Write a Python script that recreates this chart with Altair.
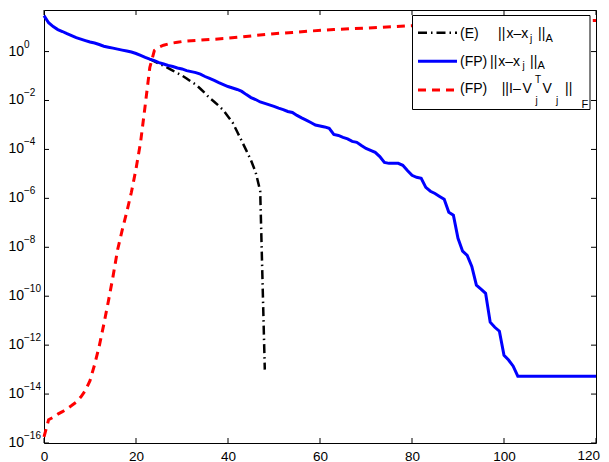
import altair as alt
import pandas as pd

FONT = "Liberation Sans"

# ---------------- data ----------------
# (FP) || x - x_j ||_A   (log10 of value), iterations 0..120
fp_iters = list(range(0, 121))
fp_err_log10 = [
    1.47, 1.18, 1.02, 0.90, 0.82, 0.73, 0.65, 0.57, 0.51, 0.45,
    0.39, 0.35, 0.29, 0.22, 0.18, 0.14, 0.10, 0.06, 0.02, -0.02,
    -0.08, -0.16, -0.24, -0.31, -0.37, -0.45, -0.51, -0.57, -0.61, -0.67,
    -0.71, -0.78, -0.82, -0.86, -0.92, -1.02, -1.10, -1.18, -1.27, -1.35,
    -1.43, -1.49, -1.55, -1.63, -1.76, -1.88, -1.96, -2.06, -2.12, -2.18,
    -2.24, -2.31, -2.37, -2.45, -2.49, -2.61, -2.71, -2.80, -2.90, -3.00,
    -3.04, -3.08, -3.14, -3.39, -3.43, -3.51, -3.57, -3.67, -3.71, -3.84,
    -3.96, -4.04, -4.12, -4.29, -4.53, -4.57, -4.57, -4.57, -4.65, -4.86,
    -5.06, -5.14, -5.18, -5.55, -5.71, -5.80, -5.92, -6.04, -6.57, -6.69,
    -7.63, -8.16, -8.33, -8.78, -9.55, -9.71, -9.88, -11.06, -11.27, -11.43,
    -12.41, -12.61, -12.86, -13.27, -13.27, -13.27, -13.27, -13.27, -13.27, -13.27,
    -13.27, -13.27, -13.27, -13.27, -13.27, -13.27, -13.27, -13.27, -13.27, -13.27,
    -13.27,
]

# (E) || x - x_j ||_A  (log10), iterations 23..48
e_iters = list(range(23, 49))
e_err_log10 = [
    -0.31, -0.40, -0.49, -0.58, -0.68, -0.78, -0.88, -0.98, -1.10, -1.23,
    -1.35, -1.52, -1.70, -1.90, -2.05, -2.22, -2.40, -2.65, -2.90, -3.28,
    -3.66, -4.05, -4.45, -4.92, -5.70, -13.00,
]

# (FP) || I - V_j^T V_j ||_F  (log10)
orth_iters = list(range(0, 31)) + [32, 35, 39, 43, 46, 50, 54, 58, 63, 70, 80, 90, 100, 110, 120]
orth_log10 = [
    -15.75, -15.05, -14.95, -14.82, -14.72, -14.60, -14.47, -14.33, -14.12, -13.85,
    -13.45, -12.80, -12.05, -11.15, -10.20, -9.20, -8.10, -7.30, -6.55, -5.75,
    -4.80, -3.70, -2.20, -0.65, 0.05, 0.18, 0.26, 0.31, 0.35, 0.38,
    0.41, 0.44, 0.48, 0.53, 0.60, 0.66, 0.73, 0.78, 0.84, 0.90,
    0.96, 1.06, 1.12, 1.18, 1.23, 1.27,
]

x_ticks = [0, 20, 40, 60, 80, 100, 120]
x_last = [120]
y_tick_exps = [-16, -14, -12, -10, -8, -6, -4, -2, 0]

legend_labels = ["(E)", "(FP)", "(FP)"]

# ---------------- layout ----------------
W, H = 552, 433
xs = alt.Scale(domain=[0, 120], nice=False)
ys = alt.Scale(type="log", domain=[1e-16, 50], nice=False)

x_axis = alt.Axis(values=x_ticks, ticks=False, domain=False, grid=False,
                  labelFont=FONT, labelFontSize=13.5, labelColor="black",
                  labelPadding=6, labelFlush=False, title=None,
                  labelExpr="datum.value == 120 ? '' : datum.label")


def xenc(field):
    return alt.X(f"{field}:Q", scale=xs, axis=x_axis)


def yenc(field):
    return alt.Y(f"{field}:Q", scale=ys, axis=None)


df_fp = pd.DataFrame({"it": fp_iters, "val": [10.0 ** v for v in fp_err_log10]})
df_e = pd.DataFrame({"it": e_iters, "val": [10.0 ** v for v in e_err_log10]})
df_o = pd.DataFrame({"it": orth_iters, "val": [10.0 ** v for v in orth_log10]})
df_yt = pd.DataFrame({
    "v": [10.0 ** e for e in y_tick_exps],
    "lab": [("\u2212" + str(-e)) if e < 0 else str(e) for e in y_tick_exps],
})
df_xt = pd.DataFrame({"t": x_ticks})
df_xlast = pd.DataFrame({"t": x_last, "lab": [str(v) for v in x_last]})
one = pd.DataFrame({"a": [0]})

BLUE = "#0000ff"
RED = "#ff0000"
E_DASH = [9, 4, 1.5, 4]
R_DASH = [8, 6]

black_line = alt.Chart(df_e).mark_line(color="black", strokeWidth=2.5, strokeDash=E_DASH).encode(
    x=xenc("it"), y=yenc("val"))
blue_line = alt.Chart(df_fp).mark_line(color=BLUE, strokeWidth=3).encode(
    x=xenc("it"), y=yenc("val"))
red_line = alt.Chart(df_o).mark_line(color=RED, strokeWidth=3, strokeDash=R_DASH).encode(
    x=xenc("it"), y=yenc("val"))

# inward ticks on all four sides
left_ticks = alt.Chart(df_yt).mark_rule(color="black", strokeWidth=1).encode(
    y=yenc("v"), x=alt.value(0), x2=alt.value(5))
right_ticks = alt.Chart(df_yt).mark_rule(color="black", strokeWidth=1).encode(
    y=yenc("v"), x=alt.value(W - 5), x2=alt.value(W))
bottom_ticks = alt.Chart(df_xt).mark_rule(color="black", strokeWidth=1).encode(
    x=xenc("t"), y=alt.value(H), y2=alt.value(H - 5))
top_ticks = alt.Chart(df_xt).mark_rule(color="black", strokeWidth=1).encode(
    x=xenc("t"), y=alt.value(0), y2=alt.value(5))

# last x label, nudged left so it stays inside the page
xlab_last = alt.Chart(df_xlast).mark_text(align="right", baseline="top", font=FONT,
                                          fontSize=13.5, color="black", dx=4).encode(
    x=xenc("t"), y=alt.value(H + 6), text="lab:N")

# y tick labels: "10" plus superscript exponent
ylab_base = alt.Chart(df_yt).mark_text(align="right", baseline="middle", font=FONT,
                                       fontSize=14, color="black").encode(
    y=yenc("v"), x=alt.value(-20), text=alt.value("10"))
ylab_exp = alt.Chart(df_yt).mark_text(align="left", baseline="middle", font=FONT,
                                      fontSize=10, color="black", dy=-7).encode(
    y=yenc("v"), x=alt.value(-20), text="lab:N")

# ---------------- legend ----------------
legend_box = alt.Chart(one).mark_rect(fill="white", stroke="black", strokeWidth=1).encode(
    x=alt.value(368.5), x2=alt.value(546), y=alt.value(5.5), y2=alt.value(99.5))

row_line_y = [22.7, 51.3, 80.0]
row_base_y = [28.0, 55.6, 83.3]
sample_styles = [("black", 2.5, E_DASH), (BLUE, 3, None), (RED, 3, R_DASH)]

legend_layers = [legend_box]
for (col, sw, dash), ly in zip(sample_styles, row_line_y):
    kw = dict(color=col, strokeWidth=sw)
    if dash:
        kw["strokeDash"] = dash
    legend_layers.append(alt.Chart(one).mark_rule(**kw).encode(
        x=alt.value(374), x2=alt.value(413), y=alt.value(ly)))

b1, b2, b3 = row_base_y
legend_pieces = [
    (legend_labels[0], 416, b1, 14),
    ("||", 454, b1, 14),
    ("x\u2013x", 462.5, b1, 14),
    ("j", 486, b1 + 3.5, 10),
    ("||", 494, b1, 14),
    ("A", 501.5, b1 + 3.5, 11),
    (legend_labels[1], 416, b2, 14),
    ("||", 446, b2, 14),
    ("x\u2013x", 454.3, b2, 14),
    ("j", 478.5, b2 + 3.5, 10),
    ("||", 486, b2, 14),
    ("A", 493.5, b2 + 3.5, 11),
    (legend_labels[2], 416, b3, 14),
    ("||", 457.7, b3, 14),
    ("I\u2013", 465, b3, 14),
    ("V", 478.5, b3, 14),
    ("T", 491, b3 - 10, 10),
    ("j", 491.5, b3 + 10.5, 10),
    ("V", 498.5, b3, 14),
    ("j", 512, b3 + 10.5, 10),
    ("||", 521, b3, 14),
    ("F", 537.5, b3 + 14.5, 11),
]
for txt, px, py, fs in legend_pieces:
    legend_layers.append(alt.Chart(one).mark_text(
        align="left", baseline="alphabetic", font=FONT, fontSize=fs, color="black").encode(
        x=alt.value(px), y=alt.value(py), text=alt.value(txt)))

chart = alt.layer(
    black_line, blue_line, red_line,
    left_ticks, right_ticks, bottom_ticks, top_ticks,
    xlab_last, ylab_base, ylab_exp,
    *legend_layers,
).properties(
    width=W, height=H,
    autosize=alt.AutoSizeParams(type="none"),
    padding={"left": 36, "top": 2, "right": 5, "bottom": 20},
    background="white",
).configure_view(stroke="black", strokeWidth=1)

chart.save("out.html", embed_options={"renderer": "svg", "actions": False})
